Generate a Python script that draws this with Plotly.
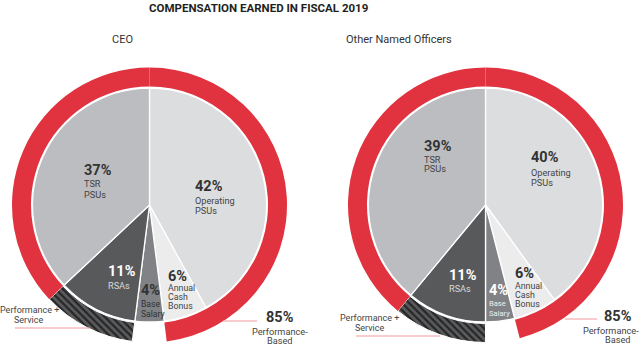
import plotly.graph_objects as go

# ---------------- data ----------------
categories = ["Operating PSUs", "Annual Cash Bonus", "Base Salary", "RSAs", "TSR PSUs"]
short_labels = [["Operating", "PSUs"], ["Annual", "Cash", "Bonus"], ["Base", "Salary"], ["RSAs"], ["TSR", "PSUs"]]
ceo_values = [42, 6, 4, 11, 37]
ono_values = [40, 6, 4, 11, 39]
performance_based = [85, 85]
panel_titles = ["CEO", "Other Named Officers"]
chart_title = "COMPENSATION EARNED IN FISCAL 2019"

# ---------------- styles ----------------
W, H = 642, 346
FONT = "Roboto"
RED = "#e1333f"
PINK = "#f29aa0"
slice_colors = ["#dcdddf", "#ececec", "#808285", "#58595b", "#bcbdc0"]
PCT_SIZE = 14.5

def px(x):
    return x / W

def py(y):
    return 1 - y / H

panels = [
    dict(values=ceo_values, cx=149.5, cy=205, title_x=122,
         blocks=[(193, 186, [200, 210], "#333", "#444", 9.2),
                 (166, 276, [288, 297, 306], "#333", "#444", 8.8),
                 (139, 290, [304, 314], "#333", "#333", 8.6),
                 (106, 271, [285], "#ffffff", "#d8d8d8", 9.2),
                 (82, 171, [184, 194], "#333", "#444", 9.2)],
         pb=(279.5, 317, [331, 340], "center"), ps=(29, 310, [320]),
         line_ps=(15, 90, 328), line_pb=(223, 257, 321)),
    dict(values=ono_values, cx=485.5, cy=205, title_x=398.5,
         blocks=[(529, 158, [172, 182], "#333", "#444", 9.2),
                 (513, 273, [286, 295, 304], "#333", "#444", 8.8),
                 (487, 290, [303, 313], "#ffffff", "#eeeeee", 7.6),
                 (447, 275, [288], "#ffffff", "#d8d8d8", 9.2),
                 (422, 146, [159, 168], "#333", "#444", 9.2)],
         pb=(617.5, 316, [330, 339], "right"), ps=(370, 318, [328]),
         line_ps=(356, 440, 336), line_pb=(565, 597, 319)),
]

R_OUT, R_IN, R_PIE = 137.5, 118.5, 117

fig = go.Figure()
annotations = []
shapes = []

for pidx, p in enumerate(panels):
    vals = p["values"]
    cx, cy = p["cx"], p["cy"]
    # ring: performance-based (operating + annual), base salary gap, RSAs (hatched), TSR (red)
    ring_vals = [vals[0] + vals[1], vals[2], vals[3], vals[4]]
    fig.add_trace(go.Pie(
        values=ring_vals, sort=False, direction="clockwise", rotation=0,
        hole=R_IN / R_OUT, textinfo="none", hoverinfo="skip", showlegend=False,
        domain=dict(x=[px(cx - R_OUT), px(cx + R_OUT)], y=[py(cy + R_OUT), py(cy - R_OUT)]),
        marker=dict(colors=[RED, "rgba(0,0,0,0)", "#5a5b5d", RED],
                    line=dict(color="white", width=[0, 0, 1, 0]),
                    pattern=dict(shape=["", "", "\\", ""], fgcolor="#262626", bgcolor="#5a5b5d",
                                 size=5, solidity=0.45, fillmode="replace")),
    ))
    fig.add_trace(go.Pie(
        values=vals, labels=categories, sort=False, direction="clockwise", rotation=0,
        textinfo="none", hoverinfo="label+percent", showlegend=False,
        domain=dict(x=[px(cx - R_PIE), px(cx + R_PIE)], y=[py(cy + R_PIE), py(cy - R_PIE)]),
        marker=dict(colors=slice_colors, line=dict(color="white", width=1.3)),
    ))
    # slice labels
    for i, (x, y, ys, c1, c2, fs) in enumerate(p["blocks"]):
        annotations.append(dict(x=px(x), y=py(y), xref="paper", yref="paper", xanchor="left",
                                yanchor="middle", showarrow=False, text=f"<b>{vals[i]}%</b>",
                                font=dict(family=FONT, size=PCT_SIZE, color=c1)))
        for line, yy in zip(short_labels[i], ys):
            annotations.append(dict(x=px(x), y=py(yy), xref="paper", yref="paper", xanchor="left",
                                    yanchor="middle", showarrow=False, text=line,
                                    font=dict(family=FONT, size=fs, color=c2)))
    # performance-based label
    bx, by, bys, banchor = p["pb"]
    annotations.append(dict(x=px(bx), y=py(by), xref="paper", yref="paper", xanchor="center",
                            yanchor="middle", showarrow=False, text=f"<b>{performance_based[pidx]}%</b>",
                            font=dict(family=FONT, size=PCT_SIZE, color="#333")))
    for line, yy in zip(["Performance-", "Based"], bys):
        if banchor == "right" and line == "Performance-":
            ax, xa = px(641), "right"
        else:
            ax, xa = px(bx), "center"
        annotations.append(dict(x=ax, y=py(yy), xref="paper", yref="paper", xanchor=xa,
                                yanchor="middle", showarrow=False, text=line,
                                font=dict(family=FONT, size=9.2, color="#444")))
    sx, sy, sys_ = p["ps"]
    for line, yy in zip(["Performance +", "Service"], [sy] + sys_):
        annotations.append(dict(x=px(sx), y=py(yy), xref="paper", yref="paper", xanchor="center",
                                yanchor="middle", showarrow=False, text=line,
                                font=dict(family=FONT, size=9, color="#444")))
    for (x0, x1, yy) in [p["line_ps"], p["line_pb"]]:
        shapes.append(dict(type="line", xref="paper", yref="paper", x0=px(x0), x1=px(x1),
                           y0=py(yy), y1=py(yy), line=dict(color=PINK, width=1)))
    # panel title
    annotations.append(dict(x=px(p["title_x"]), y=py(40), xref="paper", yref="paper", xanchor="center",
                            yanchor="middle", showarrow=False, text=panel_titles[pidx],
                            font=dict(family=FONT, size=11, color="#333")))

annotations.append(dict(x=px(259), y=py(8), xref="paper", yref="paper", xanchor="center",
                        yanchor="middle", showarrow=False, text=f"<b>{chart_title}</b>",
                        font=dict(family=FONT, size=11.5, color="#231f20")))

fig.update_layout(width=W, height=H, margin=dict(l=0, r=0, t=0, b=0),
                  paper_bgcolor="white", plot_bgcolor="white",
                  annotations=annotations, shapes=shapes)

fig.write_html("out.html")
